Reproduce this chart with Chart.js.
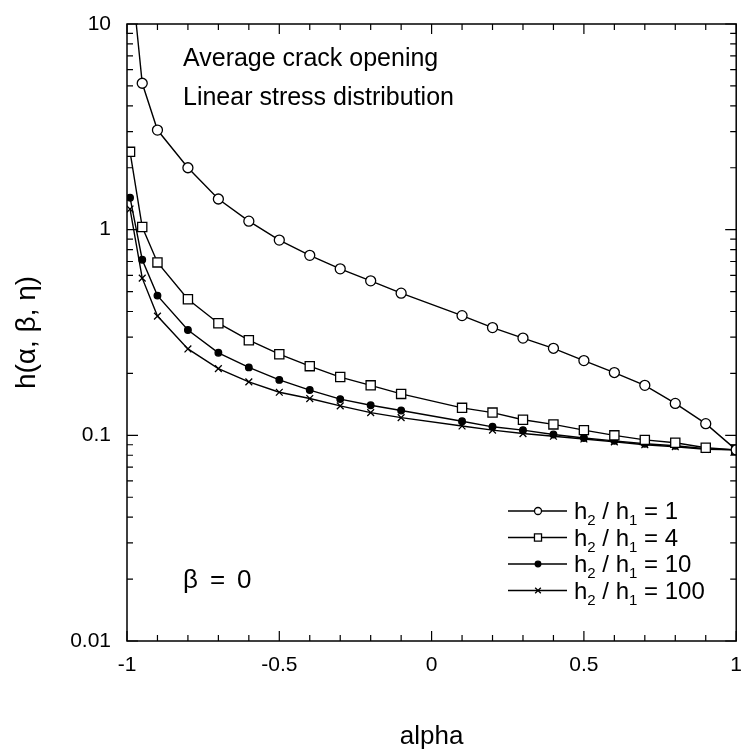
<!DOCTYPE html>
<html>
<head>
<meta charset="utf-8">
<script src="https://cdn.jsdelivr.net/npm/chart.js@4.4.1/dist/chart.umd.min.js"></script>
<style>
  html, body { margin: 0; padding: 0; background: #fff; }
  #wrap { width: 744px; height: 752px; }
</style>
</head>
<body>
<div id="wrap"><canvas id="chart" width="744" height="752"></canvas></div>
<script>
// alpha values shared by all four curves
const alphas = [-0.99, -0.95, -0.9, -0.8, -0.7, -0.6, -0.5, -0.4, -0.3, -0.2, -0.1,
                0.1, 0.2, 0.3, 0.4, 0.5, 0.6, 0.7, 0.8, 0.9, 1];

const ratio1   = [20, 5.15, 3.05, 2.0, 1.41, 1.10, 0.89, 0.75, 0.645, 0.564, 0.491,
                  0.382, 0.334, 0.297, 0.265, 0.231, 0.202, 0.175, 0.143, 0.114, 0.085];
const ratio4   = [2.39, 1.03, 0.693, 0.459, 0.351, 0.290, 0.248, 0.217, 0.192, 0.175, 0.159,
                  0.136, 0.129, 0.119, 0.113, 0.106, 0.100, 0.095, 0.092, 0.087, 0.085];
const ratio10  = [1.43, 0.714, 0.478, 0.325, 0.252, 0.214, 0.186, 0.166, 0.150, 0.140, 0.132,
                  0.117, 0.110, 0.106, 0.101, 0.097, 0.094, 0.091, 0.089, 0.086, 0.085];
const ratio100 = [1.26, 0.581, 0.380, 0.263, 0.211, 0.182, 0.162, 0.151, 0.139, 0.129, 0.122,
                  0.111, 0.106, 0.102, 0.099, 0.096, 0.093, 0.090, 0.088, 0.0855, 0.085];

const ratioLabels = ['1', '4', '10', '100'];
const xTicks = [-1, -0.5, 0, 0.5, 1];
const yTicks = [0.01, 0.1, 1, 10];
const yTickLabels = ['0.01', '0.1', '1', '10'];

const FONT = 'Arial, "Liberation Sans", Helvetica, sans-serif';

function pts(ys) {
  return alphas.map((a, i) => ({ x: a, y: ys[i] }));
}

const styles = [
  { pointStyle: 'circle',   radius: 5,   bg: '#fff', legendRadius: 3.5 },
  { pointStyle: 'rect',     radius: 6.5, bg: '#fff', legendRadius: 5 },
  { pointStyle: 'circle',   radius: 3.3, bg: '#000', legendRadius: 2.8 },
  { pointStyle: 'crossRot', radius: 4.8, bg: '#000', legendRadius: 4 }
];

const series = [ratio1, ratio4, ratio10, ratio100];

const datasets = series.map((ys, i) => ({
  label: 'h2 / h1 = ' + ratioLabels[i],
  data: pts(ys),
  showLine: true,
  borderColor: '#000',
  borderWidth: 1.4,
  pointStyle: styles[i].pointStyle,
  pointRadius: styles[i].radius,
  pointBackgroundColor: styles[i].bg,
  pointBorderColor: '#000',
  pointBorderWidth: 1.3,
  tension: 0
}));

// frame, inward ticks, text annotations and legend
const decorations = {
  id: 'decorations',
  afterDraw(chart) {
    const ctx = chart.ctx;
    const area = chart.chartArea;
    const xs = chart.scales.x;
    const ys = chart.scales.y;
    ctx.save();
    ctx.strokeStyle = '#000';
    ctx.lineWidth = 1.5;
    ctx.strokeRect(area.left, area.top, area.right - area.left, area.bottom - area.top);

    ctx.lineWidth = 1.2;
    ctx.beginPath();
    for (let k = -10; k <= 10; k++) {
      const px = xs.getPixelForValue(k / 10);
      const len = (k % 5 === 0) ? 10 : 6;
      ctx.moveTo(px, area.bottom);
      ctx.lineTo(px, area.bottom - len);
      ctx.moveTo(px, area.top);
      ctx.lineTo(px, area.top + len);
    }
    [0.01, 0.1, 1].forEach(d => {
      for (let m = 1; m <= 10; m++) {
        const py = ys.getPixelForValue(d * m);
        const len = (m === 1 || m === 10) ? 11 : 6;
        ctx.moveTo(area.left, py);
        ctx.lineTo(area.left + len, py);
        ctx.moveTo(area.right, py);
        ctx.lineTo(area.right - len, py);
      }
    });
    ctx.stroke();

    ctx.fillStyle = '#000';
    ctx.textBaseline = 'alphabetic';
    ctx.textAlign = 'left';
    ctx.font = '25px ' + FONT;
    ctx.fillText('Average crack opening', 183, 66);
    ctx.fillText('Linear stress distribution', 183, 105);
    ctx.font = '26px ' + FONT;
    ctx.fillText('\u03B2', 183, 588);
    ctx.fillText('=', 210, 588);
    ctx.fillText('0', 237, 588);

    // legend
    const rowY = [511, 537.5, 564, 590.5];
    chart.data.datasets.forEach((ds, i) => {
      const y = rowY[i];
      ctx.strokeStyle = '#000';
      ctx.lineWidth = 1.4;
      ctx.beginPath();
      ctx.moveTo(508, y);
      ctx.lineTo(567, y);
      ctx.stroke();
      ctx.fillStyle = styles[i].bg;
      ctx.lineWidth = 1.3;
      Chart.helpers.drawPoint(ctx, {
        pointStyle: styles[i].pointStyle,
        radius: styles[i].legendRadius,
        rotation: 0,
        borderWidth: 1.3
      }, 538, y);
      ctx.fillStyle = '#000';
      let x = 574;
      const base = y + 8;
      const parts = [
        ['h', 24, 0], ['2', 15, 6], [' / h', 24, 0], ['1', 15, 6], [' = ' + ratioLabels[i], 24, 0]
      ];
      parts.forEach(p => {
        ctx.font = p[1] + 'px ' + FONT;
        ctx.fillText(p[0], x, base + p[2]);
        x += ctx.measureText(p[0]).width;
      });
    });
    ctx.restore();
  }
};

new Chart(document.getElementById('chart'), {
  type: 'scatter',
  data: { datasets: datasets },
  options: {
    responsive: false,
    animation: false,
    layout: { padding: { top: 24, right: 1, left: 0, bottom: 0 } },
    plugins: {
      legend: { display: false },
      tooltip: { enabled: false }
    },
    scales: {
      x: {
        type: 'linear',
        min: -1,
        max: 1,
        grid: { display: false, drawTicks: false },
        border: { display: false },
        afterBuildTicks: s => { s.ticks = xTicks.map(v => ({ value: v })); },
        // fixed axis height; edge labels may overflow like in the original
        afterFit: s => { s.height = 111; s.paddingLeft = 0; s.paddingRight = 0; },
        ticks: {
          padding: 12,
          color: '#000',
          font: { family: FONT, size: 21 },
          callback: v => String(v)
        },
        title: {
          display: true,
          text: 'alpha',
          color: '#000',
          font: { family: FONT, size: 26 },
          padding: { top: 0, bottom: 0 }
        }
      },
      y: {
        type: 'logarithmic',
        min: 0.01,
        max: 10,
        grid: { display: false, drawTicks: false },
        border: { display: false },
        afterBuildTicks: s => { s.ticks = yTicks.map(v => ({ value: v })); },
        afterFit: s => { s.width = 127; s.paddingTop = 0; s.paddingBottom = 0; },
        ticks: {
          padding: 16,
          color: '#000',
          font: { family: FONT, size: 21 },
          callback: v => yTickLabels[yTicks.indexOf(v)] ?? ''
        },
        title: {
          display: true,
          text: 'h(\u03B1, \u03B2, \u03B7)',
          color: '#000',
          font: { family: FONT, size: 28 },
          padding: { top: 10, bottom: 0 }
        }
      }
    }
  },
  plugins: [decorations]
});
</script>
</body>
</html>
